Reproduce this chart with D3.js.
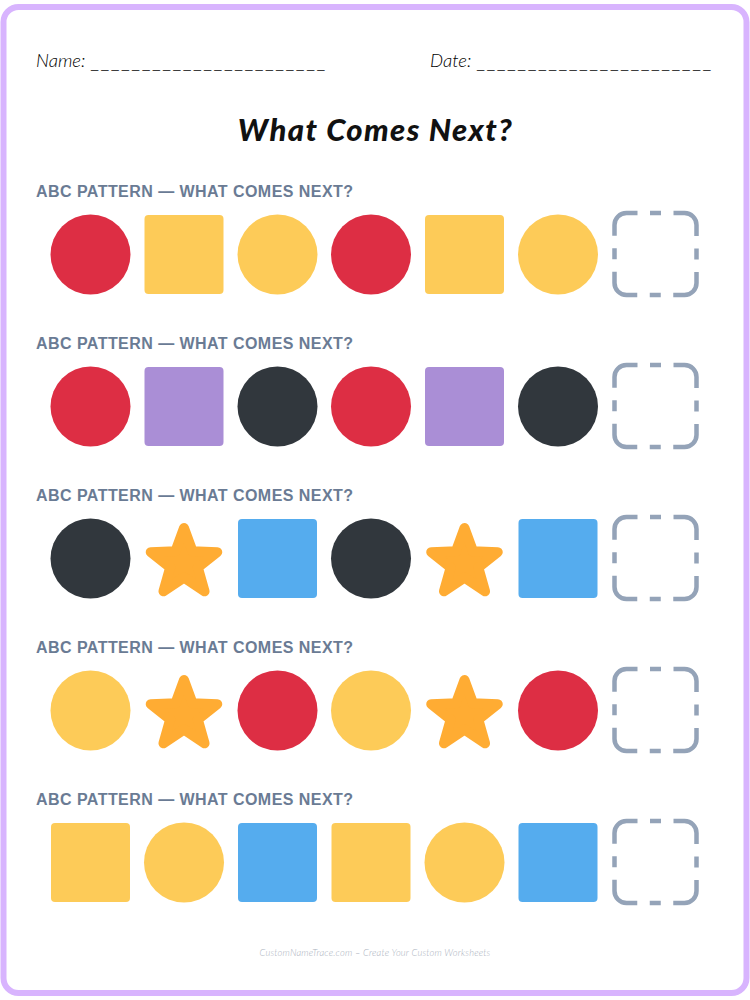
<!DOCTYPE html>
<html>
<head>
<meta charset="utf-8">
<script src="https://cdn.jsdelivr.net/npm/d3@7"></script>
<style>html,body{margin:0;padding:0;background:#fff}svg{display:block}</style>
</head>
<body>
<script>
const rowLabels = ["row1","row2","row3","row4","row5"];
const rowTitle = "ABC PATTERN — WHAT COMES NEXT?";
const row1 = ["circle:red","square:yellow","circle:yellow","circle:red","square:yellow","circle:yellow"];
const row2 = ["circle:red","square:purple","circle:dark","circle:red","square:purple","circle:dark"];
const row3 = ["circle:dark","star:orange","square:blue","circle:dark","star:orange","square:blue"];
const row4 = ["circle:yellow","star:orange","circle:red","circle:yellow","star:orange","circle:red"];
const row5 = ["square:yellow","circle:yellow","square:blue","square:yellow","circle:yellow","square:blue"];
const rows = [row1,row2,row3,row4,row5];
const slots = [0,1,2,3,4,5,6];
const colorNames = ["red","yellow","purple","dark","orange","blue"];
const colorValues = ["#DD2E44","#FDCB58","#AA8ED6","#31373D","#FFAC33","#55ACEE"];

const W = 750, H = 1000;
const hand = "'Lato','Open Sans',sans-serif";
const svg = d3.select("body").append("svg").attr("width",W).attr("height",H);
const color = d3.scaleOrdinal().domain(colorNames).range(colorValues);
const x = d3.scalePoint().domain(slots).range([90.5,651.5]);
const y = d3.scalePoint().domain(rowLabels).range([254.5,862.5]);

svg.append("rect").attr("x",3.5).attr("y",7).attr("width",743).attr("height",986)
  .attr("rx",15).attr("fill","#fff").attr("stroke","#D8B4FE").attr("stroke-width",6);

function header(tx, label, lineX){
  svg.append("text").attr("x",tx).attr("y",67).attr("font-family",hand).attr("font-style","italic")
    .attr("font-weight",300).attr("font-size",18.5).attr("fill","#000").text(label);
  svg.append("text").attr("x",lineX).attr("y",67.5).attr("font-family","'Liberation Sans'")
    .attr("font-size",13).attr("letter-spacing",3.05).attr("fill","#222").text("_".repeat(23));
}
header(36,"Name:",91);
header(430,"Date:",477);

svg.append("text").attr("x",375.5).attr("y",141).attr("text-anchor","middle")
  .attr("font-family",hand).attr("font-style","italic").attr("font-weight",900)
  .attr("font-size",31).attr("letter-spacing",1.4).attr("fill","#111").text("What Comes Next?");

const starPts = d3.range(10).map(i => [i*Math.PI/5, i%2 ? 14.5 : 35]);
const starPath = d3.lineRadial().curve(d3.curveLinearClosed)(starPts);

rowLabels.forEach((name,ri) => {
  const cy = y(name);
  svg.append("text").attr("x",36).attr("y",cy-57.7).attr("font-family","'Liberation Sans'")
    .attr("font-weight",700).attr("font-size",16).attr("letter-spacing",0.45).attr("fill","#6A7B94").text(rowTitle);
  const g = svg.append("g");
  g.selectAll("g.item").data(rows[ri]).join("g").attr("class","item")
    .attr("transform",(d,i)=>`translate(${x(i)},${cy})`)
    .each(function(d){
      const [shape,c] = d.split(":");
      const s = d3.select(this);
      if(shape==="circle") s.append("circle").attr("r",40).attr("fill",color(c));
      if(shape==="square") s.append("rect").attr("x",-39.5).attr("y",-39.5).attr("width",79).attr("height",79).attr("rx",4).attr("fill",color(c));
      if(shape==="star") s.append("path").attr("d",starPath).attr("transform","translate(0,4.5)")
        .attr("fill",color(c)).attr("stroke",color(c)).attr("stroke-width",10).attr("stroke-linejoin","round");
    });
  g.append("rect").attr("x",x(6)-37).attr("y",cy-41.5).attr("width",82).attr("height",82)
    .attr("rx",12).attr("fill","none").attr("stroke","#94A3B8").attr("stroke-width",4.5)
    .attr("stroke-dasharray","40.85 12.5 11 12.5").attr("stroke-dashoffset",29.85);
});

svg.append("text").attr("x",375).attr("y",956).attr("text-anchor","middle")
  .attr("font-family",hand).attr("font-style","italic").attr("font-weight",300)
  .attr("font-size",9.3).attr("letter-spacing",0.2).attr("fill","#A9B0BC")
  .text("CustomNameTrace.com – Create Your Custom Worksheets");
</script>
</body>
</html>
